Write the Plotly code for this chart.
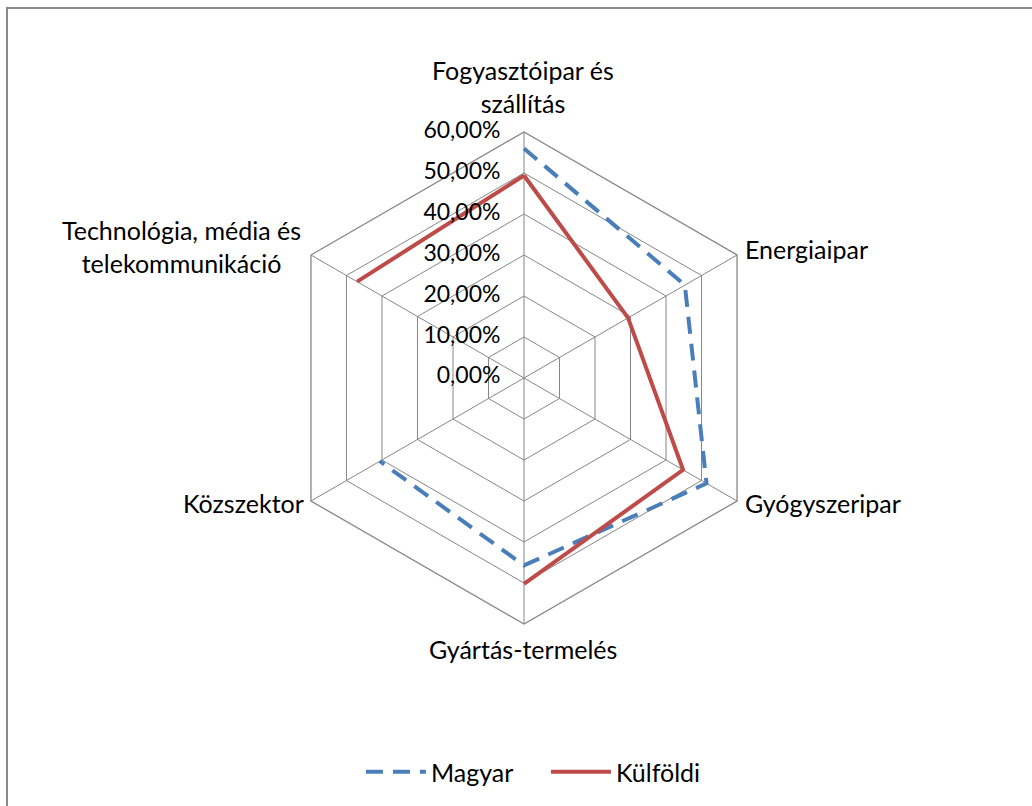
import plotly.graph_objects as go

categories = ["Fogyasztóipar és szállítás", "Energiaipar", "Gyógyszeripar",
              "Gyártás-termelés", "Közszektor", "Technológia, média és telekommunikáció"]
category_labels = ["Fogyasztóipar és<br>szállítás", "Energiaipar", "Gyógyszeripar",
                   "Gyártás-termelés", "Közszektor", "Technológia, média és<br>telekommunikáció"]
magyar = [0.56, 0.453, 0.514, 0.457, 0.406, None]
kulfoldi = [0.494, 0.293, 0.448, 0.502, None, 0.47]
radial_ticks = [0, 0.1, 0.2, 0.3, 0.4, 0.5, 0.6]
radial_tick_text = ["0,00%", "10,00%", "20,00%", "30,00%", "40,00%", "50,00%", "60,00%"]

W, H = 1032, 806
cx, cy, R = 524, 378, 246
FONT = "Lato"
FS = 25

fig = go.Figure()
fig.add_trace(go.Scatterpolar(
    r=magyar + [magyar[0]], theta=categories + [categories[0]],
    mode="lines", name="Magyar", connectgaps=False,
    line=dict(color="#4A7EBB", width=4, dash="17px,10px")))
fig.add_trace(go.Scatterpolar(
    r=kulfoldi + [kulfoldi[0]], theta=categories + [categories[0]],
    mode="lines", name="Külföldi", connectgaps=False,
    line=dict(color="#BE4B48", width=4)))
# radial axis value labels, placed through the polar scale
# (the label at the exact centre is nudged a hair outward so plotly renders it)
label_r = [max(v, 0.002) for v in radial_ticks]
fig.add_trace(go.Scatterpolar(
    r=label_r, theta=[categories[0]] * len(radial_ticks),
    mode="text", text=[t + "\u00a0" * 4 for t in radial_tick_text],
    textposition="middle left", showlegend=False, hoverinfo="skip", cliponaxis=False,
    textfont=dict(family=FONT, size=23, color="#000000")))

# category label positions (paper px)
label_pos = [(523, 86, "center"), (743, 249, "left"), (743, 503, "left"),
             (523, 649, "center"), (306, 503, "right"), (303, 247, "right")]
annotations = []
for txt, (px, py, anc) in zip(category_labels, label_pos):
    annotations.append(dict(text=txt, x=px / W, y=(H - py) / H, xref="paper", yref="paper",
                            xanchor=anc, yanchor="middle", align="center", showarrow=False,
                            font=dict(family=FONT, size=FS, color="#000000")))

fig.update_layout(
    width=W, height=H,
    margin=dict(l=0, r=0, t=0, b=0),
    paper_bgcolor="white", plot_bgcolor="white",
    font=dict(family=FONT, size=FS, color="#000000"),
    annotations=annotations,
    polar=dict(
        domain=dict(x=[(cx - R) / W, (cx + R) / W], y=[(H - cy - R) / H, (H - cy + R) / H]),
        gridshape="linear", bgcolor="white",
        radialaxis=dict(range=[0, 0.6], tickvals=radial_ticks, showticklabels=False,
                        angle=90, showline=False, gridcolor="#868686", gridwidth=1.3,
                        ticks="", layer="below traces"),
        angularaxis=dict(rotation=90, direction="clockwise", showline=True,
                         showticklabels=False,
                         linecolor="#868686", linewidth=1.3, gridcolor="#868686",
                         gridwidth=1.3, ticks="", layer="below traces"),
    ),
    legend=dict(orientation="h", x=0.529, xanchor="center", y=(H - 772) / H, yanchor="middle",
                font=dict(family=FONT, size=FS, color="#000000"), itemwidth=60,
                entrywidth=110),
    shapes=[dict(type="rect", xref="paper", yref="paper",
                 x0=7 / W, x1=1.02, y0=-0.02, y1=(H - 8) / H,
                 line=dict(color="#888888", width=2), fillcolor="rgba(0,0,0,0)", layer="below")],
)

fig.write_html("out.html", config={"displayModeBar": False},
               post_script="document.body.style.margin='0';")
